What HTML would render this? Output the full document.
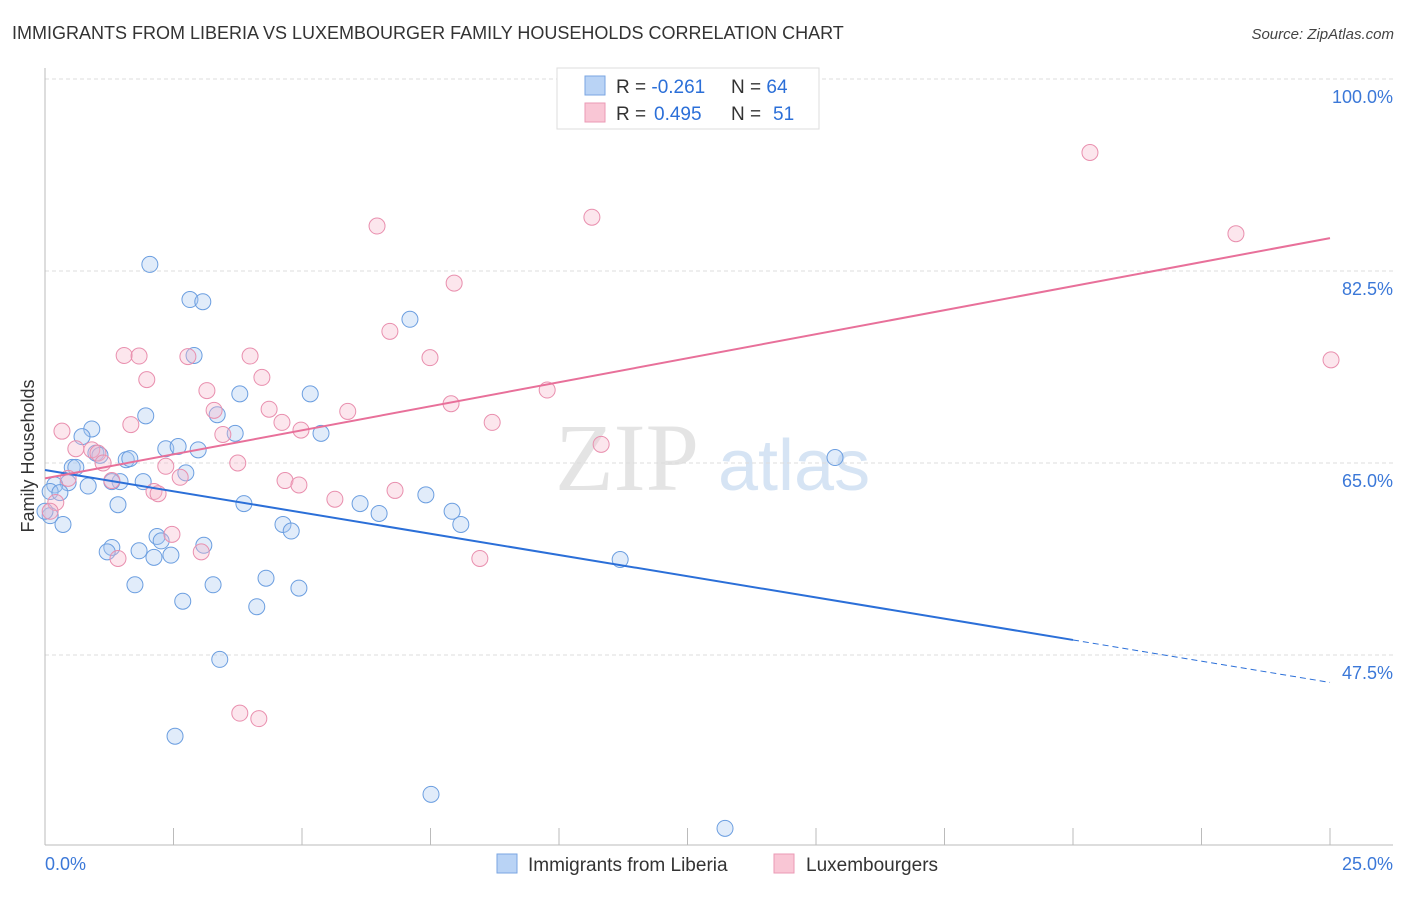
<!DOCTYPE html>
<html><head><meta charset="utf-8"><style>
body{margin:0;background:#fff;font-family:"Liberation Sans",sans-serif;}
#c{position:relative;width:1406px;height:892px;}
</style></head><body>
<div id="c">
<svg id="s" width="1406" height="892" xmlns="http://www.w3.org/2000/svg"></svg>
</div>
<script>
const yTicks=[100,82.5,65,47.5];
const yTickLabels=["100.0%","82.5%","65.0%","47.5%"];
const blueX=[2.04,2.82,3.07,7.10,2.90,3.79,5.16,1.96,3.35,3.70,5.37,0.91,0.72,2.35,2.59,2.98,0.99,1.07,1.58,1.65,0.53,0.60,2.74,1.91,1.46,1.30,0.84,0.45,0.19,0.10,0.29,1.42,3.87,6.13,7.41,6.50,7.92,8.09,4.63,4.79,0.35,0.10,2.18,2.26,3.09,1.30,1.21,1.83,2.12,2.45,11.19,4.30,1.75,3.27,4.94,2.68,4.12,3.40,2.53,7.51,13.23,15.37,0.0];
const blueY=[83.1,79.9,79.7,78.1,74.8,71.3,71.3,69.3,69.4,67.7,67.7,68.1,67.4,66.3,66.5,66.2,65.9,65.7,65.3,65.4,64.6,64.6,64.1,63.3,63.3,63.3,62.9,63.2,63.0,62.4,62.3,61.2,61.3,61.3,62.1,60.4,60.6,59.4,59.4,58.8,59.4,60.2,58.3,57.9,57.5,57.3,56.9,57.0,56.4,56.6,56.2,54.5,53.9,53.9,53.6,52.4,51.9,47.1,40.1,34.8,31.7,65.5,60.6];
const pinkX=[20.33,10.64,6.46,23.17,7.96,6.71,25.02,1.54,1.83,2.78,3.99,7.49,1.98,4.22,3.15,9.77,3.29,4.36,5.89,7.90,0.33,1.67,4.61,4.98,8.70,3.46,0.60,0.91,1.03,10.82,3.75,1.13,2.35,2.63,4.67,1.30,4.94,0.45,6.81,2.12,2.20,5.64,0.21,0.10,2.47,3.04,1.42,8.46,3.79,4.16];
const pinkY=[93.3,87.4,86.6,85.9,81.4,77.0,74.4,74.8,74.75,74.7,74.75,74.6,72.6,72.8,71.6,71.65,69.8,69.9,69.7,70.4,67.9,68.5,68.7,68.0,68.7,67.6,66.3,66.2,65.9,66.7,65.0,65.0,64.7,63.7,63.4,63.4,63.0,63.6,62.5,62.4,62.2,61.7,61.4,60.6,58.5,56.9,56.3,56.3,42.2,41.7];
const blueTrend=[64.36,45.0]; // y at x=0 and x=25
const pinkTrend=[63.6,85.5];
const X0=45,X1=1330,YT=79,PX=192/17.5;
const sx=v=>X0+(X1-X0)*v/25;
const sy=v=>YT+(100-v)*PX;
const s=document.getElementById('s');
const NS='http://www.w3.org/2000/svg';
function mk(t,a,txt){const e=document.createElementNS(NS,t);for(const k in a)e.setAttribute(k,a[k]);if(txt!==undefined)e.textContent=txt;s.appendChild(e);return e;}
// title
let e=mk('text',{x:12,y:39,'font-size':18,fill:'#333'},'IMMIGRANTS FROM LIBERIA VS LUXEMBOURGER FAMILY HOUSEHOLDS CORRELATION CHART');


e=mk('text',{x:1394,y:39,'font-size':15,fill:'#444','font-style':'italic','text-anchor':'end'},'Source: ZipAtlas.com');


// watermark
e=mk('text',{x:555,y:490,'font-size':96,fill:'#e4e4e4','font-family':'Liberation Serif, serif'},'ZIP');


e=mk('text',{x:718,y:490,'font-size':72,fill:'#d6e4f4'},'atlas');


// gridlines & y labels
yTicks.forEach((t,i)=>{
 let g=mk('line',{x1:X0,x2:1393,y1:sy(t),y2:sy(t),stroke:'#ddd','stroke-dasharray':'4,3'});
 
 
 let l=mk('text',{x:1393,y:sy(t)+24,'font-size':18,fill:'#3b78d8','text-anchor':'end'},yTickLabels[i]);
 
 
});
// axes
e=mk('line',{x1:X0,x2:X0,y1:68,y2:845,stroke:'#bbb'});


e=mk('line',{x1:X0,x2:1393,y1:845,y2:845,stroke:'#bbb'});


for(let i=1;i<=10;i++){
 let t=mk('line',{x1:sx(i*2.5),x2:sx(i*2.5),y1:828,y2:845,stroke:'#bbb'});
 
 
}
e=mk('text',{x:45,y:870,'font-size':18,fill:'#3b78d8'},'0.0%');


e=mk('text',{x:1393,y:870,'font-size':18,fill:'#3b78d8','text-anchor':'end'},'25.0%');


e=mk('text',{x:34,y:456,'font-size':18,fill:'#333','text-anchor':'middle',transform:'rotate(-90 34 456)'},'Family Households');


// points
function pts(xs,ys,fill,stroke,name){
 xs.forEach((x,i)=>{
  let c=mk('circle',{cx:sx(x),cy:sy(ys[i]),r:8,fill:fill,'fill-opacity':0.35,stroke:stroke,'stroke-width':1});
  
  
 });
}
pts(blueX,blueY,'#a9c8f2','#6b9ee0','liberia-point');
pts(pinkX,pinkY,'#f6b6ca','#e98fae','luxembourger-point');
// trend lines
const bAt=x=>blueTrend[0]+(blueTrend[1]-blueTrend[0])*x/25;
e=mk('line',{x1:sx(0),y1:sy(bAt(0)),x2:sx(20),y2:sy(bAt(20)),stroke:'#2b6fd8','stroke-width':2});


e=mk('line',{x1:sx(20),y1:sy(bAt(20)),x2:sx(25),y2:sy(bAt(25)),stroke:'#2b6fd8','stroke-width':1,'stroke-dasharray':'6,4'});


e=mk('line',{x1:sx(0),y1:sy(pinkTrend[0]),x2:sx(25),y2:sy(pinkTrend[1]),stroke:'#e8709a','stroke-width':2});


// top legend
e=mk('rect',{x:557,y:68,width:262,height:61,fill:'#fff',stroke:'#ddd'});


e=mk('rect',{x:585,y:76,width:20,height:19,fill:'#b9d3f5',stroke:'#7aa6e2'});


e=mk('rect',{x:585,y:103,width:20,height:19,fill:'#f9c6d5',stroke:'#eb9ab5'});


[[93,'-0.261','64'],[120,'0.495','51']].forEach((r,i)=>{
 let t=mk('text',{x:616,y:r[0],'font-size':19,fill:'#333'});
 t.innerHTML='R = <tspan fill="#2b6fd8"'+(i?' x="654"':'')+'>'+r[1]+'</tspan><tspan x="731" fill="#333">N = </tspan><tspan fill="#2b6fd8"'+(i?' x="773"':'')+'>'+r[2]+'</tspan>';
 
 
});
// bottom legend
e=mk('rect',{x:497,y:854,width:20,height:19,fill:'#b9d3f5',stroke:'#7aa6e2'});


e=mk('text',{x:528,y:871,'font-size':19,fill:'#333'},'Immigrants from Liberia');


e=mk('rect',{x:774,y:854,width:20,height:19,fill:'#f9c6d5',stroke:'#eb9ab5'});


e=mk('text',{x:806,y:871,'font-size':19,fill:'#333'},'Luxembourgers');


</script>
</body></html>
